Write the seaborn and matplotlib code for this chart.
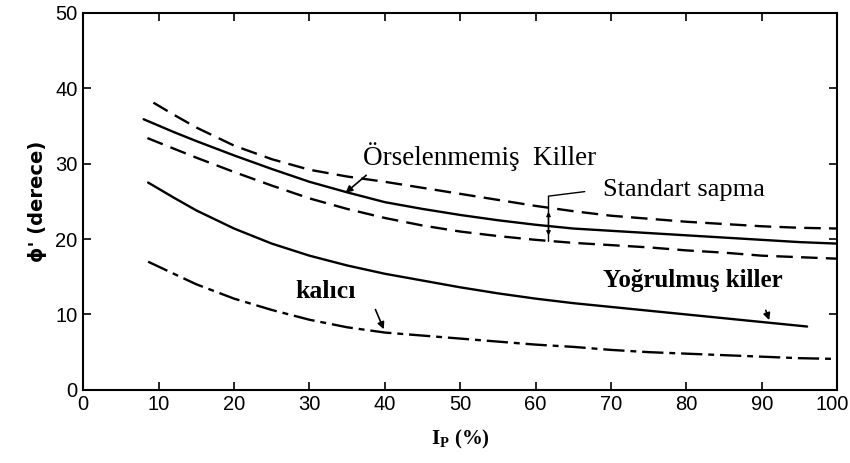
import matplotlib
matplotlib.use("Agg")
import matplotlib.pyplot as plt
import matplotlib.transforms as mtransforms
import seaborn as sns
import pandas as pd

# values (x = I_P %, y = phi' degrees)
ip_upper = [9.3, 12, 15, 20, 25, 30, 35, 40, 45, 50, 55, 60, 65, 70, 75, 80, 85, 90, 95, 100]
phi_upper = [38.1, 36.5, 34.8, 32.4, 30.6, 29.2, 28.3, 27.6, 26.8, 26.0, 25.2, 24.4, 23.7,
             23.1, 22.7, 22.3, 22.0, 21.7, 21.5, 21.4]

ip_mean = [8.0, 12, 15, 20, 25, 30, 35, 40, 45, 50, 55, 60, 65, 70, 75, 80, 85, 90, 95, 100]
phi_mean = [35.9, 34.2, 33.0, 31.1, 29.3, 27.6, 26.2, 24.9, 24.0, 23.2, 22.5, 21.9, 21.4,
            21.1, 20.8, 20.5, 20.2, 19.9, 19.6, 19.4]

ip_lower = [8.5, 12, 15, 20, 25, 30, 35, 40, 45, 50, 55, 60, 65, 70, 75, 80, 85, 90, 95, 100]
phi_lower = [33.4, 32.0, 30.8, 28.9, 27.1, 25.4, 24.0, 22.8, 21.8, 21.0, 20.4, 19.9, 19.5,
             19.2, 18.9, 18.5, 18.2, 17.8, 17.6, 17.4]

ip_remold = [8.6, 12, 15, 20, 25, 30, 35, 40, 45, 50, 55, 60, 65, 70, 75, 80, 85, 90, 96]
phi_remold = [27.5, 25.5, 23.8, 21.4, 19.4, 17.8, 16.5, 15.4, 14.5, 13.6, 12.8, 12.1, 11.5,
              11.0, 10.5, 10.0, 9.5, 9.0, 8.4]

ip_resid = [8.6, 12, 15, 20, 25, 30, 35, 40, 45, 50, 55, 60, 65, 70, 75, 80, 85, 90, 95, 100]
phi_resid = [17.0, 15.4, 14.0, 12.1, 10.6, 9.3, 8.3, 7.6, 7.2, 6.8, 6.4, 6.0, 5.7,
             5.3, 5.0, 4.8, 4.6, 4.4, 4.2, 4.1]

x_ticks = [0, 10, 20, 30, 40, 50, 60, 70, 80, 90, 100]
y_ticks = [0, 10, 20, 30, 40, 50]

sns.set_style("ticks")
plt.rcParams['font.family'] = ['Liberation Sans', 'DejaVu Sans']
plt.rcParams['text.color'] = 'black'
plt.rcParams['axes.labelcolor'] = 'black'
plt.rcParams['xtick.color'] = 'black'
plt.rcParams['ytick.color'] = 'black'
plt.rcParams['axes.edgecolor'] = 'black'

fig = plt.figure(figsize=(8.5, 4.63), dpi=100)
ax = fig.add_axes([0.098, 0.158, 0.887, 0.814])

curves = [
    (ip_upper, phi_upper, (0, (7, 3.5))),
    (ip_mean, phi_mean, "-"),
    (ip_lower, phi_lower, (0, (7, 3.5))),
    (ip_remold, phi_remold, "-"),
    (ip_resid, phi_resid, (0, (9, 2.5, 2.5, 2.5))),
]
for xs, ys, ls in curves:
    df = pd.DataFrame({"ip": xs, "phi": ys})
    sns.lineplot(data=df, x="ip", y="phi", ax=ax, color="black",
                 linewidth=1.7, linestyle=ls)

ax.set_xlim(0, 100)
ax.set_ylim(0, 50)
ax.set_xticks(x_ticks)
ax.set_yticks(y_ticks)
ax.tick_params(direction="in", top=True, right=True, length=6, width=1.2,
               labelsize=14.5, pad=4, colors="black")
for s in ax.spines.values():
    s.set_linewidth(1.5)
    s.set_color("black")

# nudge the "100" label so it stays inside the canvas
last = ax.get_xticklabels()[-1]
last.set_transform(last.get_transform() +
                   mtransforms.ScaledTranslation(-5 / 100, 0, fig.dpi_scale_trans))

ax.set_xlabel(r"I$_\mathregular{P}$ (%)", family="Liberation Serif",
              fontsize=15, fontweight="bold", labelpad=10)
ax.set_ylabel("ϕ' (derece)", family="DejaVu Sans", fontsize=14,
              fontweight="bold", labelpad=6)

serif = dict(family="Liberation Serif", color="black")
ax.text(37.1, 31.0, "Örselenmemiş  Killer", ha="left", va="center",
        fontsize=19.5, **serif)
ax.annotate("", xy=(34.5, 25.9), xytext=(37.8, 28.7),
            arrowprops=dict(arrowstyle="-|>", color="black", lw=1.2,
                            mutation_scale=10))
ax.text(68.9, 26.5, "Standart sapma", ha="left", va="center",
        fontsize=19, **serif)
ax.plot([61.7, 61.7, 66.5], [19.7, 25.7, 26.3], color="black", lw=1.0)
ax.annotate("", xy=(61.7, 20.1), xytext=(61.7, 24.0),
            arrowprops=dict(arrowstyle="<|-|>", color="black", lw=1.0,
                            mutation_scale=6))
ax.text(68.9, 14.5, "Yoğrulmuş killer", ha="left", va="center",
        fontsize=18, fontweight="bold", **serif)
ax.annotate("", xy=(91.1, 8.9), xytext=(90.4, 10.9),
            arrowprops=dict(arrowstyle="-|>", color="black", lw=1.2,
                            mutation_scale=10))
ax.text(28.1, 13.0, "kalıcı", ha="left", va="center", fontsize=18.5,
        fontweight="bold", **serif)
ax.annotate("", xy=(40.0, 7.7), xytext=(38.6, 11.0),
            arrowprops=dict(arrowstyle="-|>", color="black", lw=1.2,
                            mutation_scale=10))

fig.savefig("out.png", dpi=100)
